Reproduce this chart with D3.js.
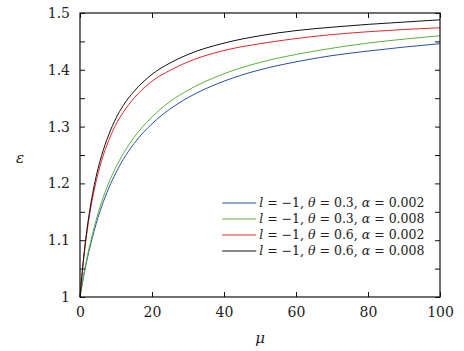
<!DOCTYPE html>
<html>
<head>
<meta charset="utf-8">
<script src="https://cdn.jsdelivr.net/npm/d3@7"></script>
<style>
  body { margin: 0; background: #fff; }
  text { font-family: "DejaVu Serif", serif; fill: #222; }
</style>
</head>
<body>
<div id="chart"></div>
<script>
// values
const mu = [0, 1, 2, 3, 4, 5, 6, 8, 10, 12, 15, 20, 25, 30, 40, 50, 60, 70, 80, 90, 100];
const epsBlack = [1, 1.069, 1.122, 1.164, 1.198, 1.226, 1.249, 1.286, 1.315, 1.337, 1.362, 1.392, 1.412, 1.427, 1.447, 1.460, 1.469, 1.475, 1.480, 1.484, 1.488];
const epsRed = [1, 1.066, 1.117, 1.157, 1.190, 1.217, 1.240, 1.276, 1.304, 1.325, 1.350, 1.380, 1.399, 1.414, 1.434, 1.446, 1.455, 1.462, 1.467, 1.471, 1.474];
const epsGreen = [1, 1.038, 1.071, 1.099, 1.124, 1.147, 1.167, 1.201, 1.229, 1.252, 1.281, 1.317, 1.344, 1.364, 1.393, 1.413, 1.427, 1.438, 1.447, 1.454, 1.460];
const epsBlue = [1, 1.036, 1.067, 1.094, 1.118, 1.140, 1.159, 1.192, 1.219, 1.242, 1.270, 1.305, 1.331, 1.351, 1.380, 1.400, 1.414, 1.425, 1.433, 1.440, 1.446];

const xTicks = [0, 20, 40, 60, 80, 100];
const yTicks = [1, 1.1, 1.2, 1.3, 1.4, 1.5];
const yMinor = [1.05, 1.15, 1.25, 1.35, 1.45];

// legend order as in the picture (top to bottom)
const series = [
  { theta: "0.3", alpha: "0.002", color: "#2a4fa8", values: epsBlue },
  { theta: "0.3", alpha: "0.008", color: "#5cb33f", values: epsGreen },
  { theta: "0.6", alpha: "0.002", color: "#e8262b", values: epsRed },
  { theta: "0.6", alpha: "0.008", color: "#111111", values: epsBlack }
];

const margin = { top: 13, right: 24, bottom: 54, left: 80 };
const width = 464 - margin.left - margin.right;
const height = 351 - margin.top - margin.bottom;

const svg = d3.select("#chart")
    .append("svg")
    .attr("width", 464)
    .attr("height", 351)
    .append("g")
    .attr("transform", `translate(${margin.left},${margin.top})`);

const x = d3.scaleLinear().domain([0, 100]).range([0, width]);
const y = d3.scaleLinear().domain([1, 1.5]).range([height, 0]);

// curves
const line = d3.line()
    .x((d, i) => x(mu[i]))
    .y(d => y(d))
    .curve(d3.curveMonotoneX);

svg.selectAll(".curve")
    .data(series)
    .enter()
    .append("path")
    .attr("class", "curve")
    .attr("fill", "none")
    .attr("stroke", d => d.color)
    .attr("stroke-width", 1)
    .attr("d", d => line(d.values));

// axes with inward ticks on all four sides
const tick = 5;
const fmtY = d => d === 1 ? "1" : d3.format(".1f")(d);

svg.append("g")
    .attr("transform", `translate(0,${height})`)
    .call(d3.axisBottom(x).tickValues(xTicks).tickSize(-tick).tickPadding(10).tickFormat(d3.format("d")));
svg.append("g")
    .call(d3.axisTop(x).tickValues(xTicks).tickSize(-tick).tickFormat(""));
svg.append("g")
    .call(d3.axisLeft(y).tickValues(yTicks).tickSize(-tick).tickPadding(10).tickFormat(fmtY));
svg.append("g")
    .attr("transform", `translate(${width},0)`)
    .call(d3.axisRight(y).tickValues(yTicks).tickSize(-tick).tickFormat(""));
svg.append("g")
    .call(d3.axisLeft(y).tickValues(yMinor).tickSize(-tick).tickFormat(""));
svg.append("g")
    .attr("transform", `translate(${width},0)`)
    .call(d3.axisRight(y).tickValues(yMinor).tickSize(-tick).tickFormat(""));

svg.selectAll(".domain").remove();
svg.selectAll(".tick line").attr("stroke", "#111");
svg.selectAll(".tick text")
    .style("font-family", "'DejaVu Serif', serif")
    .style("font-size", "14px")
    .attr("fill", "#222");

svg.append("rect")
    .attr("width", width)
    .attr("height", height)
    .attr("fill", "none")
    .attr("stroke", "#111")
    .attr("stroke-width", 1.2);

// axis labels
svg.append("text")
    .attr("x", width / 2)
    .attr("y", height + 46)
    .attr("text-anchor", "middle")
    .style("font-size", "15px")
    .style("font-style", "italic")
    .text("μ");

svg.append("text")
    .attr("x", -60)
    .attr("y", 150)
    .attr("text-anchor", "middle")
    .style("font-size", "15px")
    .style("font-style", "italic")
    .text("ε");

// legend
const legend = svg.selectAll(".legend")
    .data(series)
    .enter()
    .append("g")
    .attr("class", "legend")
    .attr("transform", (d, i) => `translate(${x(39.5)}, ${190 + i * 16})`);

legend.append("line")
    .attr("x1", 0)
    .attr("x2", 34)
    .attr("stroke", d => d.color)
    .attr("stroke-width", 1);

const lt = legend.append("text")
    .attr("x", 37)
    .attr("y", 0)
    .attr("dy", "0.35em")
    .style("font-size", "12.5px");

lt.append("tspan").style("font-style", "italic").text("l");
lt.append("tspan").text(" = −1, ");
lt.append("tspan").style("font-style", "italic").text("θ");
lt.append("tspan").text(d => ` = ${d.theta}, `);
lt.append("tspan").style("font-style", "italic").text("α");
lt.append("tspan").text(d => ` = ${d.alpha}`);
</script>
</body>
</html>
